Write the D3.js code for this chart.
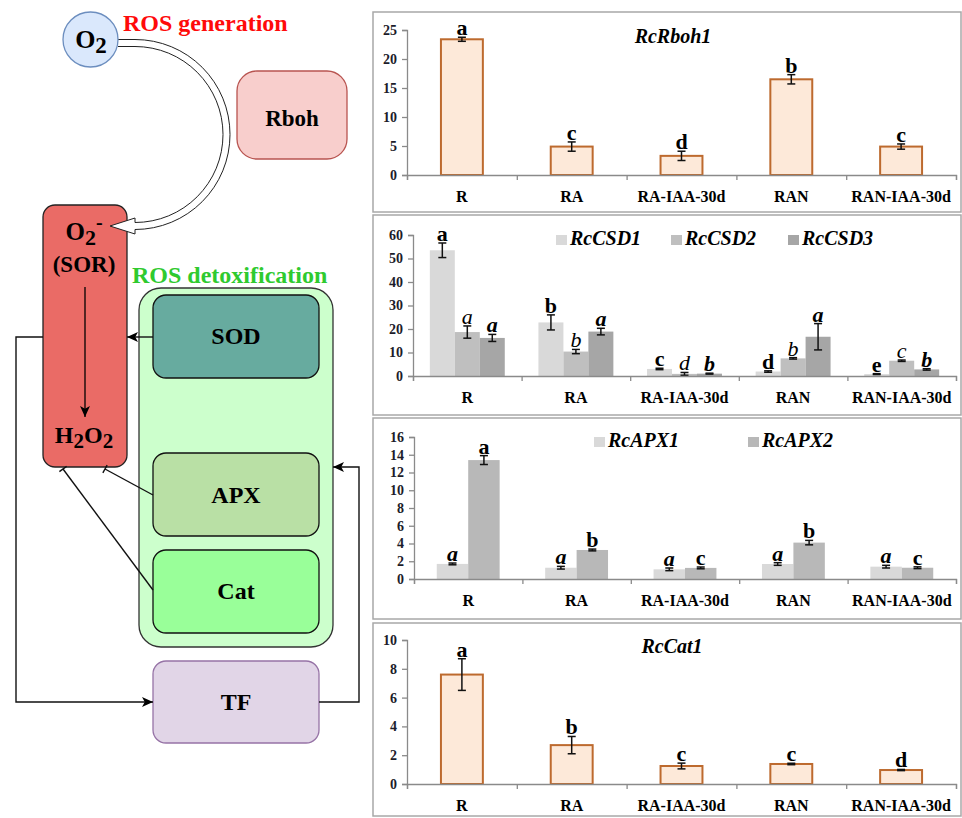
<!DOCTYPE html>
<html>
<head>
<meta charset="utf-8">
<script src="https://cdn.jsdelivr.net/npm/d3@7"></script>
<style>
  body { margin: 0; background: #fff; }
  svg { display: block; }
  svg text { font-family: 'Liberation Serif', 'Times New Roman', Times, 'DejaVu Serif', serif !important; }
</style>
</head>
<body>
<script>
// ---- data ----
const categories = ["R", "RA", "RA-IAA-30d", "RAN", "RAN-IAA-30d"];

const rboh1 = [23.4, 4.9, 3.3, 16.5, 4.9];
const rboh1Err = [0.35, 0.8, 0.8, 0.8, 0.45];
const rboh1Sig = ["a", "c", "d", "b", "c"];
const rbohTicks = [0, 5, 10, 15, 20, 25];

const csd1 = [53.5, 22.8, 3.0, 1.9, 0.8];
const csd1Err = [3.1, 3.2, 0.3, 0.3, 0.2];
const csd1Sig = ["a", "b", "c", "d", "e"];
const csd2 = [18.7, 10.4, 0.9, 7.5, 6.5];
const csd2Err = [2.6, 0.9, 0.6, 0.3, 0.3];
const csd2Sig = ["a", "b", "d", "b", "c"];
const csd3 = [16.2, 18.9, 1.0, 16.7, 2.8];
const csd3Err = [1.5, 1.4, 0.2, 5.6, 0.3];
const csd3Sig = ["a", "a", "b", "a", "b"];
const csdTicks = [0, 10, 20, 30, 40, 50, 60];

const apx1 = [1.7, 1.27, 1.09, 1.69, 1.39];
const apx1Err = [0.1, 0.15, 0.15, 0.15, 0.15];
const apx1Sig = ["a", "a", "a", "a", "a"];
const apx2 = [13.4, 3.27, 1.25, 4.1, 1.27];
const apx2Err = [0.5, 0.1, 0.1, 0.25, 0.1];
const apx2Sig = ["a", "b", "c", "b", "c"];
const apxTicks = [0, 2, 4, 6, 8, 10, 12, 14, 16];

const cat1 = [7.6, 2.7, 1.25, 1.39, 0.97];
const cat1Err = [1.1, 0.6, 0.2, 0.05, 0.04];
const cat1Sig = ["a", "b", "c", "c", "d"];
const catTicks = [0, 2, 4, 6, 8, 10];

const W = 962, H = 818;
const serif = "'Liberation Serif', 'Times New Roman', Times, 'DejaVu Serif', serif";
const svg = d3.select("body").append("svg").attr("width", W).attr("height", H)
    .attr("font-family", serif);

const defs = svg.append("defs");
defs.append("marker")
    .attr("id", "arrow")
    .attr("viewBox", "0 -5 10 10")
    .attr("refX", 10).attr("refY", 0)
    .attr("markerUnits", "userSpaceOnUse")
    .attr("markerWidth", 11).attr("markerHeight", 11)
    .attr("orient", "auto")
    .append("path").attr("d", "M0,-4.5L10,0L0,4.5L2.5,0Z").attr("fill", "#000");

// ---------------- diagram (left side) ----------------
const dg = svg.append("g").attr("class", "diagram");
const boldTxt = (sel) => sel.attr("font-weight", "bold").attr("fill", "#000").attr("font-family", serif);

function roundBox(x, y, w, h, r, fill, stroke) {
    dg.append("rect").attr("x", x).attr("y", y).attr("width", w).attr("height", h)
        .attr("rx", r).attr("ry", r)
        .attr("fill", fill).attr("stroke", stroke).attr("stroke-width", 1.3);
}

// hollow curved arrow O2 -> O2-
const cx = 135, cy = 134.5, r = 91.5, hw = 3.5;
const arcPath = `M118,${cy - r - hw} L${cx},${cy - r - hw}
  A${r + hw},${r + hw} 0 0 1 ${cx},${cy + r + hw}
  L${cx},${cy + r + 8} L110,${cy + r} L${cx},${cy + r - 8} L${cx},${cy + r - hw}
  A${r - hw},${r - hw} 0 0 0 ${cx},${cy - r + hw} L118,${cy - r + hw}`;

// O2- / H2O2 column
roundBox(43, 205, 84, 262, 12, "#ea6b66", "#222");

dg.append("path").attr("d", arcPath)
    .attr("fill", "#fff").attr("stroke", "#222").attr("stroke-width", 1);

// O2 circle
dg.append("circle").attr("cx", 90.5).attr("cy", 39.5).attr("r", 27.5)
    .attr("fill", "#dae8fc").attr("stroke", "#6c8ebf").attr("stroke-width", 1.3);
const o2 = dg.append("text").attr("x", 91).attr("y", 48).attr("text-anchor", "middle")
    .attr("font-size", 26).call(boldTxt);
o2.append("tspan").text("O");
o2.append("tspan").attr("dy", 5).attr("font-size", 23).text("2");

dg.append("text").attr("x", 123).attr("y", 31).attr("font-size", 24).attr("font-family", serif)
    .attr("font-weight", "bold").attr("fill", "#ff0a0a").text("ROS generation");

roundBox(237, 71, 110, 88, 20, "#f8cecc", "#b85450");
dg.append("text").attr("x", 292).attr("y", 126).attr("text-anchor", "middle")
    .attr("font-size", 23).call(boldTxt).text("Rboh");

const o2m = dg.append("text").attr("x", 84).attr("y", 240).attr("text-anchor", "middle")
    .attr("font-size", 25).call(boldTxt);
o2m.append("tspan").text("O");
o2m.append("tspan").attr("dy", 5).attr("font-size", 22).text("2");
o2m.append("tspan").attr("dy", -16).attr("font-size", 20).text("-");

dg.append("text").attr("x", 84).attr("y", 272).attr("text-anchor", "middle")
    .attr("font-size", 23).call(boldTxt).text("(SOR)");

dg.append("line").attr("x1", 85).attr("y1", 287).attr("x2", 85).attr("y2", 417)
    .attr("stroke", "#000").attr("stroke-width", 1.3).attr("marker-end", "url(#arrow)");

const h2o2 = dg.append("text").attr("x", 84).attr("y", 443).attr("text-anchor", "middle")
    .attr("font-size", 24).call(boldTxt);
h2o2.append("tspan").text("H");
h2o2.append("tspan").attr("dy", 5).attr("font-size", 21).text("2");
h2o2.append("tspan").attr("dy", -5).text("O");
h2o2.append("tspan").attr("dy", 5).attr("font-size", 21).text("2");

dg.append("text").attr("x", 132).attr("y", 283).attr("font-size", 24).attr("font-family", serif)
    .attr("font-weight", "bold").attr("fill", "#2fca2f").text("ROS detoxification");

// detox group
roundBox(139, 288, 194, 359, 22, "#ccffcc", "#333");
roundBox(153, 295, 166, 83, 13, "#67ab9f", "#111");
roundBox(153, 453, 166, 83, 13, "#b9e0a5", "#111");
roundBox(153, 550, 166, 83, 13, "#99ff99", "#111");
roundBox(153, 661, 166, 82, 13, "#e1d5e7", "#9673a6");

[["SOD", 344], ["APX", 503], ["Cat", 599], ["TF", 710]].forEach(([t, yy]) => {
    dg.append("text").attr("x", 236).attr("y", yy).attr("text-anchor", "middle")
        .attr("font-size", 24).call(boldTxt).text(t);
});

// connectors
const conn = (d, marker) => {
    const p = dg.append("path").attr("d", d).attr("fill", "none")
        .attr("stroke", "#111").attr("stroke-width", 1.4);
    if (marker) p.attr("marker-end", "url(#arrow)");
};
conn("M43,337 L16,337 L16,702 L153,702", true);
conn("M153,337 L127,337", true);
conn("M319,702 L359,702 L359,467 L333,467", true);

// inhibition lines (T ends) from APX and Cat to H2O2
function tee(x1, y1, x2, y2) {
    conn(`M${x1},${y1} L${x2},${y2}`, false);
    const dx = x2 - x1, dy = y2 - y1, len = Math.hypot(dx, dy);
    const nx = -dy / len * 4.5, ny = dx / len * 4.5;
    dg.append("line").attr("x1", x2 + nx).attr("y1", y2 + ny)
        .attr("x2", x2 - nx).attr("y2", y2 - ny)
        .attr("stroke", "#111").attr("stroke-width", 1.4);
}
tee(153, 495, 105, 469);
tee(153, 590, 63, 469);

// ---------------- bar panels (right side) ----------------
const AX_END = 956;

function drawPanel(p) {
    const g = svg.append("g");
    g.append("rect").attr("x", 373).attr("y", p.top).attr("width", 588).attr("height", p.bottom - p.top)
        .attr("fill", "#fff").attr("stroke", "#a8a8a8").attr("stroke-width", 1.5);

    const x = d3.scaleBand().domain(categories).range([p.x0, AX_END])
        .paddingInner(p.pad).paddingOuter(p.pad / 2);
    const edge = d3.scaleLinear().domain([0, categories.length]).range([p.x0, AX_END]);
    const y = d3.scaleLinear().domain([0, p.max]).range([p.y0, p.yTop]);
    const sub = d3.scaleBand().domain(p.series.map(s => s.name)).range([0, x.bandwidth()]);

    // y axis
    const ya = g.append("g").attr("transform", `translate(${p.x0},0)`)
        .call(d3.axisLeft(y).tickValues(p.ticks).tickSize(5).tickPadding(5))
        .attr("font-family", serif);
    ya.select(".domain").attr("stroke", "#8a8a8a").attr("stroke-width", 1.3);
    ya.selectAll(".tick line").attr("stroke", "#8a8a8a").attr("stroke-width", 1.3);
    ya.selectAll(".tick text").attr("font-family", serif).attr("font-size", 14)
        .attr("font-weight", "bold").attr("fill", "#1c1c2a");

    // bars
    p.series.forEach(s => {
        const sg = g.append("g");
        const bx = (i) => x(categories[i]) + sub(s.name);
        sg.selectAll("rect").data(s.values).join("rect")
            .attr("x", (d, i) => bx(i) + (s.stroke ? 1 : 0))
            .attr("y", d => y(d))
            .attr("width", sub.bandwidth() - (s.stroke ? 2 : 0))
            .attr("height", d => y(0) - y(d))
            .attr("fill", s.fill)
            .attr("stroke", s.stroke || "none")
            .attr("stroke-width", 2);

        // error bars and significance letters
        const cxOf = (i) => bx(i) + sub.bandwidth() / 2;
        s.values.forEach((v, i) => {
            const e = s.errs[i];
            const c = cxOf(i);
            const eb = sg.append("g").attr("stroke", "#111").attr("stroke-width", 1.5);
            eb.append("line").attr("x1", c).attr("x2", c).attr("y1", y(v - e)).attr("y2", y(v + e));
            eb.append("line").attr("x1", c - 4).attr("x2", c + 4).attr("y1", y(v - e)).attr("y2", y(v - e));
            eb.append("line").attr("x1", c - 4).attr("x2", c + 4).attr("y1", y(v + e)).attr("y2", y(v + e));
            sg.append("text").attr("x", c).attr("y", y(v + e) - 2)
                .attr("text-anchor", "middle").attr("font-size", 22).attr("font-family", serif)
                .attr("font-weight", s.sigBold ? "bold" : "normal")
                .attr("font-style", s.sigItalic ? "italic" : "normal")
                .attr("fill", "#000").text(s.sigs[i]);
        });
    });

    // x axis: line + ticks between categories, labels under bands
    const xa = g.append("g").attr("transform", `translate(0,${p.y0})`)
        .call(d3.axisBottom(edge).tickValues(d3.range(categories.length + 1)).tickFormat("").tickSize(5));
    xa.select(".domain").attr("stroke", "#8a8a8a").attr("stroke-width", 1.3);
    xa.selectAll(".tick line").attr("stroke", "#8a8a8a").attr("stroke-width", 1.3);
    g.selectAll(".cat").data(categories).join("text")
        .attr("x", d => x(d) + x.bandwidth() / 2)
        .attr("y", p.y0 + 27)
        .attr("text-anchor", "middle").attr("font-size", 16).attr("font-weight", "bold")
        .attr("font-family", serif).attr("fill", "#000").text(d => d);

    if (p.title) {
        g.append("text").attr("x", p.title.x).attr("y", p.title.y).attr("text-anchor", "middle")
            .attr("font-size", 20).attr("font-weight", "bold").attr("font-style", "italic")
            .attr("font-family", serif).attr("fill", "#000").text(p.title.text);
    }
    if (p.legend) {
        p.series.forEach((s, i) => {
            const lx = p.legend.x[i];
            g.append("rect").attr("x", lx).attr("y", p.legend.y - 10).attr("width", 11).attr("height", 10)
                .attr("fill", s.fill);
            g.append("text").attr("x", lx + 14).attr("y", p.legend.y)
                .attr("font-size", 20).attr("font-weight", "bold").attr("font-style", "italic")
                .attr("font-family", serif).attr("fill", "#000").text(s.name);
        });
    }
}

drawPanel({
    top: 12, bottom: 212, x0: 407, y0: 175, yTop: 30, max: 25, ticks: rbohTicks, pad: 0.6,
    title: { text: "RcRboh1", x: 673, y: 43 },
    series: [{ name: "RcRboh1", values: rboh1, errs: rboh1Err, sigs: rboh1Sig,
               fill: "#fde9d9", stroke: "#bd6a2e", sigBold: true }]
});

drawPanel({
    top: 215, bottom: 415, x0: 413, y0: 376, yTop: 235, max: 60, ticks: csdTicks, pad: 0.31,
    legend: { x: [556, 671, 788], y: 245 },
    series: [
        { name: "RcCSD1", values: csd1, errs: csd1Err, sigs: csd1Sig, fill: "#d9d9d9", sigBold: true },
        { name: "RcCSD2", values: csd2, errs: csd2Err, sigs: csd2Sig, fill: "#bfbfbf", sigItalic: true },
        { name: "RcCSD3", values: csd3, errs: csd3Err, sigs: csd3Sig, fill: "#a6a6a6", sigBold: true, sigItalic: true }
    ]
});

drawPanel({
    top: 418, bottom: 619, x0: 414, y0: 579, yTop: 437, max: 16, ticks: apxTicks, pad: 0.42,
    legend: { x: [594, 748], y: 447 },
    series: [
        { name: "RcAPX1", values: apx1, errs: apx1Err, sigs: apx1Sig, fill: "#d9d9d9", sigBold: true, sigItalic: true },
        { name: "RcAPX2", values: apx2, errs: apx2Err, sigs: apx2Sig, fill: "#b8b8b8", sigBold: true }
    ]
});

drawPanel({
    top: 623, bottom: 816, x0: 407, y0: 784, yTop: 640, max: 10, ticks: catTicks, pad: 0.6,
    title: { text: "RcCat1", x: 672, y: 653 },
    series: [{ name: "RcCat1", values: cat1, errs: cat1Err, sigs: cat1Sig,
               fill: "#fde9d9", stroke: "#bd6a2e", sigBold: true }]
});
</script>
</body>
</html>
